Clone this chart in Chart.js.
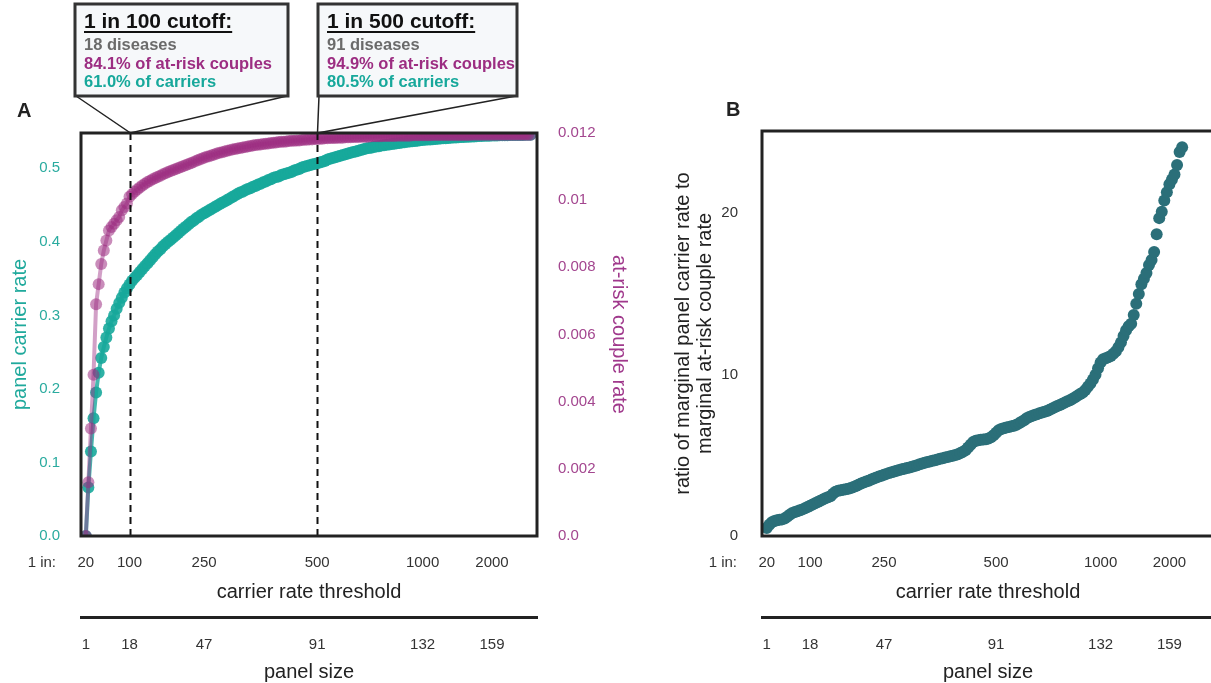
<!DOCTYPE html>
<html>
<head>
<meta charset="utf-8">
<script src="https://cdn.jsdelivr.net/npm/chart.js@4.4.0/dist/chart.umd.min.js"></script>
<style>
  html, body { margin: 0; padding: 0; background: #fff; overflow: hidden; width: 1211px; height: 683px; }
  canvas { position: absolute; top: 0; }
  #chartA { left: 0; }
  #chartB { left: 660px; }
</style>
</head>
<body>
<canvas id="chartA" width="660" height="683"></canvas>
<canvas id="chartB" width="560" height="683"></canvas>
<script>
// ---- data -------------------------------------------------------------
// cumulative panel carrier rate, one value per panel size 1..174
const carrierRate = [
  0, 0.066, 0.115, 0.160, 0.195, 0.222, 0.242, 0.257, 0.270, 0.282,
  0.292, 0.300, 0.309, 0.317, 0.324, 0.331, 0.337, 0.342, 0.347, 0.351,
  0.355, 0.359, 0.363, 0.367, 0.371, 0.375, 0.379, 0.383, 0.387, 0.390,
  0.394, 0.397, 0.400, 0.403, 0.406, 0.409, 0.412, 0.415, 0.418, 0.421,
  0.424, 0.427, 0.429, 0.432, 0.434, 0.437, 0.439, 0.441, 0.443, 0.445,
  0.447, 0.449, 0.451, 0.453, 0.455, 0.457, 0.459, 0.461, 0.463, 0.465,
  0.467, 0.468, 0.470, 0.472, 0.473, 0.475, 0.476, 0.478, 0.479, 0.481,
  0.482, 0.484, 0.485, 0.487, 0.488, 0.489, 0.491, 0.492, 0.493, 0.494,
  0.495, 0.497, 0.498, 0.499, 0.501, 0.502, 0.503, 0.504, 0.505, 0.506,
  0.507, 0.508, 0.509, 0.510, 0.512, 0.513, 0.514, 0.515, 0.516, 0.517,
  0.518, 0.519, 0.520, 0.521, 0.522, 0.523, 0.524, 0.525, 0.526, 0.527,
  0.5275, 0.528, 0.529, 0.5295, 0.530, 0.531, 0.5315, 0.532, 0.5325, 0.533,
  0.5335, 0.534, 0.5345, 0.535, 0.5355, 0.536, 0.5364, 0.5368, 0.5372, 0.5376,
  0.538, 0.5384, 0.5387, 0.539, 0.5393, 0.5396, 0.5399, 0.5402, 0.5405, 0.5408,
  0.541, 0.5413, 0.5415, 0.5418, 0.542, 0.5422, 0.5424, 0.5426, 0.5428, 0.543,
  0.5432, 0.5434, 0.5436, 0.5438, 0.544, 0.5441, 0.5443, 0.5444, 0.5445, 0.5446,
  0.5447, 0.5448, 0.5449, 0.545, 0.5451, 0.5452, 0.5452, 0.5453, 0.5453, 0.5454,
  0.5454, 0.5455, 0.5455, 0.5455
];

// cumulative at-risk couple rate, panel size 1..174
const coupleRate = [
  0, 0.0016, 0.0032, 0.0048, 0.0069, 0.0075, 0.0081, 0.0085, 0.0088, 0.0091,
  0.0092, 0.0093, 0.0094, 0.0095, 0.0097, 0.0098, 0.0099, 0.0101, 0.01018, 0.01025,
  0.01032, 0.01038, 0.01044, 0.01049, 0.01054, 0.01058, 0.01062, 0.01066, 0.0107, 0.01073,
  0.01077, 0.0108, 0.01084, 0.01087, 0.0109, 0.01093, 0.01096, 0.01099, 0.01102, 0.01105,
  0.01108, 0.01111, 0.01114, 0.01117, 0.0112, 0.01123, 0.01126, 0.01129, 0.01131, 0.01134,
  0.01136, 0.01139, 0.01141, 0.01143, 0.01145, 0.01147, 0.01149, 0.01151, 0.01152, 0.01154,
  0.01155, 0.01157, 0.01158, 0.0116, 0.01161, 0.01163, 0.01164, 0.01165, 0.01166, 0.01167,
  0.01168, 0.01169, 0.0117, 0.01171, 0.01172, 0.01173, 0.01174, 0.01174, 0.01175, 0.01176,
  0.01177, 0.01177, 0.01178, 0.01178, 0.01179, 0.0118, 0.0118, 0.01181, 0.01181, 0.01182,
  0.01182, 0.01183, 0.01183, 0.01184, 0.01184, 0.01185, 0.01185, 0.01185, 0.01186, 0.01186,
  0.01186, 0.01187, 0.01187, 0.01187, 0.01188, 0.01188, 0.01188, 0.01189, 0.01189, 0.01189,
  0.01189, 0.0119, 0.0119, 0.0119, 0.0119, 0.0119, 0.01191, 0.01191, 0.01191, 0.01191,
  0.01191, 0.01192, 0.01192, 0.01192, 0.01192, 0.01192, 0.01192, 0.01193, 0.01193, 0.01193,
  0.01193, 0.01193, 0.01193, 0.01193, 0.01193, 0.01194, 0.01194, 0.01194, 0.01194, 0.01194,
  0.01194, 0.01194, 0.01194, 0.01194, 0.01194, 0.01194, 0.01194, 0.01194, 0.01194, 0.01194,
  0.01195, 0.01195, 0.01195, 0.01195, 0.01195, 0.01195, 0.01195, 0.01195, 0.01195, 0.01195,
  0.01195, 0.01195, 0.01195, 0.01195, 0.01195, 0.01195, 0.01195, 0.01195, 0.01195, 0.01195,
  0.01195, 0.01195, 0.01195, 0.01195
];

// ratio of marginal carrier rate to marginal at-risk couple rate, panel size 1..163
const marginalRatio = [
  0.50, 0.70, 0.85, 0.93, 0.97, 1.00, 1.03, 1.08, 1.20, 1.32,
  1.42, 1.48, 1.54, 1.60, 1.65, 1.72, 1.80, 1.87, 1.95, 2.03,
  2.10, 2.18, 2.26, 2.34, 2.40, 2.46, 2.62, 2.75, 2.80, 2.83,
  2.86, 2.89, 2.93, 2.98, 3.04, 3.10, 3.18, 3.25, 3.31, 3.37,
  3.43, 3.50, 3.56, 3.62, 3.68, 3.74, 3.80, 3.85, 3.90, 3.95,
  4.00, 4.05, 4.09, 4.13, 4.17, 4.21, 4.25, 4.29, 4.34, 4.39,
  4.44, 4.49, 4.54, 4.58, 4.62, 4.66, 4.70, 4.74, 4.78, 4.82,
  4.86, 4.90, 4.94, 4.98, 5.02, 5.07, 5.14, 5.22, 5.32, 5.48,
  5.65, 5.82, 5.90, 5.94, 5.96, 5.98, 6.00, 6.04, 6.12, 6.25,
  6.40, 6.55, 6.63, 6.68, 6.72, 6.76, 6.80, 6.84, 6.90, 6.98,
  7.08, 7.18, 7.30, 7.38, 7.44, 7.50, 7.55, 7.60, 7.65, 7.70,
  7.75, 7.82, 7.90, 7.98, 8.05, 8.12, 8.20, 8.28, 8.35, 8.42,
  8.50, 8.60, 8.70, 8.80, 8.90, 9.05, 9.25, 9.45, 9.70, 10.00,
  10.40, 10.75, 10.95, 11.02, 11.08, 11.15, 11.30, 11.45, 11.70, 12.00,
  12.40, 12.75, 13.00, 13.15, 13.70, 14.40, 15.00, 15.60, 15.95, 16.30,
  16.80, 17.10, 17.60, 18.70, 19.70, 20.10, 20.80, 21.30, 21.80, 22.10,
  22.40, 23.00, 23.80, 24.10
];

// shared x ticks: panel size positions and the carrier-rate threshold they correspond to
const panelTicks = [1, 18, 47, 91, 132, 159];
const panelLabels = ['1', '18', '47', '91', '132', '159'];
const thresholdLabels = ['20', '100', '250', '500', '1000', '2000'];

// y ticks
const carrierTicks = [0, 0.1, 0.2, 0.3, 0.4, 0.5];
const carrierTickLabels = ['0.0', '0.1', '0.2', '0.3', '0.4', '0.5'];
const coupleTicks = [0, 0.002, 0.004, 0.006, 0.008, 0.01, 0.012];
const coupleTickLabels = ['0.0', '0.002', '0.004', '0.006', '0.008', '0.01', '0.012'];
const ratioTicks = [0, 10, 20];
const ratioTickLabels = ['0', '10', '20'];

// cutoff call-outs
const cutoffPanels = [18, 91];
const cutoffTitles = ['1 in 100 cutoff:', '1 in 500 cutoff:'];
const cutoffDiseases = ['18 diseases', '91 diseases'];
const cutoffCouples = ['84.1% of at-risk couples', '94.9% of at-risk couples'];
const cutoffCarriers = ['61.0% of carriers', '80.5% of carriers'];

// ---- styling ----------------------------------------------------------
const FONT = "'Liberation Sans', Arial, Helvetica, sans-serif";
Chart.defaults.font.family = FONT;
Chart.defaults.color = '#333';

const TEAL = '23,168,155';
const MAGENTA = '156,45,130';
const RATIO_COLOR = '#2b6f79';
const X_MIN = -0.87, X_MAX = 176.5;

function fixedTicks(values) {
  return scale => { scale.ticks = values.map(v => ({ value: v })); };
}

function bottomAxes() {
  return {
    x: {
      type: 'linear', position: 'bottom', weight: 0, min: X_MIN, max: X_MAX,
      grid: { display: false, drawTicks: false }, border: { display: false },
      afterBuildTicks: fixedTicks(panelTicks),
      ticks: { autoSkip: false, maxRotation: 0, padding: 18, color: '#333', font: { size: 15 },
               callback: (v, i) => thresholdLabels[i] },
      title: { display: true, text: 'carrier rate threshold', color: '#222',
               font: { size: 20, lineHeight: 1.1 }, padding: { top: 0, bottom: 14 } },
      afterFit: s => { s.height = 81; }
    },
    x2: {
      type: 'linear', position: 'bottom', weight: 1, min: X_MIN, max: X_MAX,
      grid: { display: false, drawTicks: false }, border: { display: true, color: '#222', width: 3 },
      afterBuildTicks: fixedTicks(panelTicks),
      ticks: { autoSkip: false, maxRotation: 0, padding: 19, color: '#333', font: { size: 15 },
               callback: (v, i) => panelLabels[i] },
      title: { display: true, text: 'panel size', color: '#222',
               font: { size: 20, lineHeight: 1.1 }, padding: { top: 0, bottom: 0 } },
      afterFit: s => { s.height = 66; }
    }
  };
}

// frame, "1 in:" caption and panel letter
function decorations(letter, letterX, letterY) {
  return {
    id: 'decorations' + letter,
    afterDraw(chart) {
      const { ctx, chartArea: ca } = chart;
      ctx.save();
      ctx.strokeStyle = '#222';
      ctx.lineWidth = 3;
      ctx.strokeRect(ca.left, ca.top, ca.right - ca.left, ca.bottom - ca.top);
      ctx.fillStyle = '#333';
      ctx.font = '15px ' + FONT;
      ctx.textAlign = 'right';
      ctx.textBaseline = 'middle';
      ctx.fillText('1 in:', ca.left - 25, 563);
      ctx.fillStyle = '#222';
      ctx.font = 'bold 20px ' + FONT;
      ctx.textAlign = 'left';
      ctx.textBaseline = 'alphabetic';
      ctx.fillText(letter, letterX, letterY);
      ctx.restore();
    }
  };
}

// dashed cutoff lines with their call-out boxes
const cutoffPlugin = {
  id: 'cutoffs',
  afterDraw(chart) {
    const { ctx, chartArea: ca } = chart;
    const xs = chart.scales.x;
    const boxLeft = [75, 318], boxRight = [288, 517], boxTop = 4, boxBottom = 96;
    ctx.save();
    cutoffPanels.forEach((p, i) => {
      const px = Math.round(xs.getPixelForValue(p)) + 0.5;
      // dashed line
      ctx.strokeStyle = '#111';
      ctx.lineWidth = 2;
      ctx.setLineDash([7, 5]);
      ctx.beginPath();
      ctx.moveTo(px, ca.top);
      ctx.lineTo(px, ca.bottom);
      ctx.stroke();
      ctx.setLineDash([]);
      // pointer lines
      ctx.strokeStyle = '#222';
      ctx.lineWidth = 1.5;
      ctx.beginPath();
      ctx.moveTo(boxLeft[i] + 1, boxBottom);
      ctx.lineTo(px, ca.top);
      ctx.lineTo(boxRight[i] - 1, boxBottom);
      ctx.stroke();
      // box
      ctx.fillStyle = '#f6f8fa';
      ctx.fillRect(boxLeft[i], boxTop, boxRight[i] - boxLeft[i], boxBottom - boxTop);
      ctx.strokeStyle = '#333';
      ctx.lineWidth = 3;
      ctx.strokeRect(boxLeft[i], boxTop, boxRight[i] - boxLeft[i], boxBottom - boxTop);
      // text
      const tx = boxLeft[i] + 9;
      ctx.textAlign = 'left';
      ctx.textBaseline = 'alphabetic';
      ctx.font = 'bold 21px ' + FONT;
      ctx.fillStyle = '#111';
      ctx.fillText(cutoffTitles[i], tx, 28);
      const w = ctx.measureText(cutoffTitles[i]).width;
      ctx.fillRect(tx, 31, w, 2);
      ctx.font = 'bold 16.5px ' + FONT;
      ctx.fillStyle = '#6b6b6b';
      ctx.fillText(cutoffDiseases[i], tx, 50);
      ctx.fillStyle = 'rgb(' + MAGENTA + ')';
      ctx.fillText(cutoffCouples[i], tx, 68.5);
      ctx.fillStyle = 'rgb(' + TEAL + ')';
      ctx.fillText(cutoffCarriers[i], tx, 87);
    });
    ctx.restore();
  }
};

// ---- panel A ----------------------------------------------------------
new Chart(document.getElementById('chartA'), {
  type: 'line',
  data: {
    datasets: [
      {
        label: 'at-risk couple rate',
        data: coupleRate.map((v, i) => ({ x: i + 1, y: v })),
        yAxisID: 'y2', order: 0,
        borderColor: 'rgba(' + MAGENTA + ',0.45)', borderWidth: 4,
        pointRadius: 6, pointHoverRadius: 6, pointBorderWidth: 0,
        pointBackgroundColor: 'rgba(' + MAGENTA + ',0.55)',
        tension: 0, clip: 0
      },
      {
        label: 'panel carrier rate',
        data: carrierRate.map((v, i) => ({ x: i + 1, y: v })),
        yAxisID: 'y', order: 1,
        borderColor: 'rgba(' + TEAL + ',0.8)', borderWidth: 4,
        pointRadius: 6, pointHoverRadius: 6, pointBorderWidth: 0,
        pointBackgroundColor: 'rgba(' + TEAL + ',0.9)',
        tension: 0, clip: 0
      }
    ]
  },
  options: {
    responsive: false, animation: false,
    layout: { padding: { top: 133, left: 0, right: 0, bottom: 0 } },
    plugins: { legend: { display: false }, tooltip: { enabled: false } },
    scales: Object.assign(bottomAxes(), {
      y: {
        position: 'left', min: 0, max: 0.548,
        grid: { display: false, drawTicks: false }, border: { display: false },
        afterBuildTicks: fixedTicks(carrierTicks),
        ticks: { padding: 21, color: '#2aab9f', font: { size: 15 }, callback: (v, i) => carrierTickLabels[i] },
        title: { display: true, text: 'panel carrier rate', color: '#1fa99c',
                 font: { size: 20 }, padding: { top: 8, bottom: 0 } },
        afterFit: s => { s.width = 81; }
      },
      y2: {
        position: 'right', min: 0, max: 0.012,
        grid: { display: false, drawTicks: false }, border: { display: false },
        afterBuildTicks: fixedTicks(coupleTicks),
        ticks: { padding: 21, color: '#a3468f', font: { size: 15 }, callback: (v, i) => coupleTickLabels[i] },
        title: { display: true, text: 'at-risk couple rate', color: '#a0398c',
                 font: { size: 20 }, padding: { top: 29, bottom: 0 } },
        afterFit: s => { s.width = 123; }
      }
    })
  },
  plugins: [cutoffPlugin, decorations('A', 17, 117)]
});

// ---- panel B ----------------------------------------------------------
new Chart(document.getElementById('chartB'), {
  type: 'scatter',
  data: {
    datasets: [{
      label: 'marginal ratio',
      data: marginalRatio.map((v, i) => ({ x: i + 1, y: v })),
      pointRadius: 6, pointHoverRadius: 6, pointBorderWidth: 0,
      pointBackgroundColor: RATIO_COLOR, showLine: false, clip: 0
    }]
  },
  options: {
    responsive: false, animation: false,
    layout: { padding: { top: 131, left: 0, right: 3, bottom: 0 } },
    plugins: { legend: { display: false }, tooltip: { enabled: false } },
    scales: Object.assign(bottomAxes(), {
      y: {
        position: 'left', min: 0, max: 25.1,
        grid: { display: false, drawTicks: false }, border: { display: false },
        afterBuildTicks: fixedTicks(ratioTicks),
        ticks: { padding: 24, color: '#333', font: { size: 15 }, callback: (v, i) => ratioTickLabels[i] },
        title: { display: true, text: ['ratio of marginal panel carrier rate to', 'marginal at-risk couple rate'],
                 color: '#222', font: { size: 20, lineHeight: 1.1 }, padding: { top: 12, bottom: 0 } },
        afterFit: s => { s.width = 102; }
      }
    })
  },
  plugins: [decorations('B', 66, 116)]
});
</script>
</body>
</html>
